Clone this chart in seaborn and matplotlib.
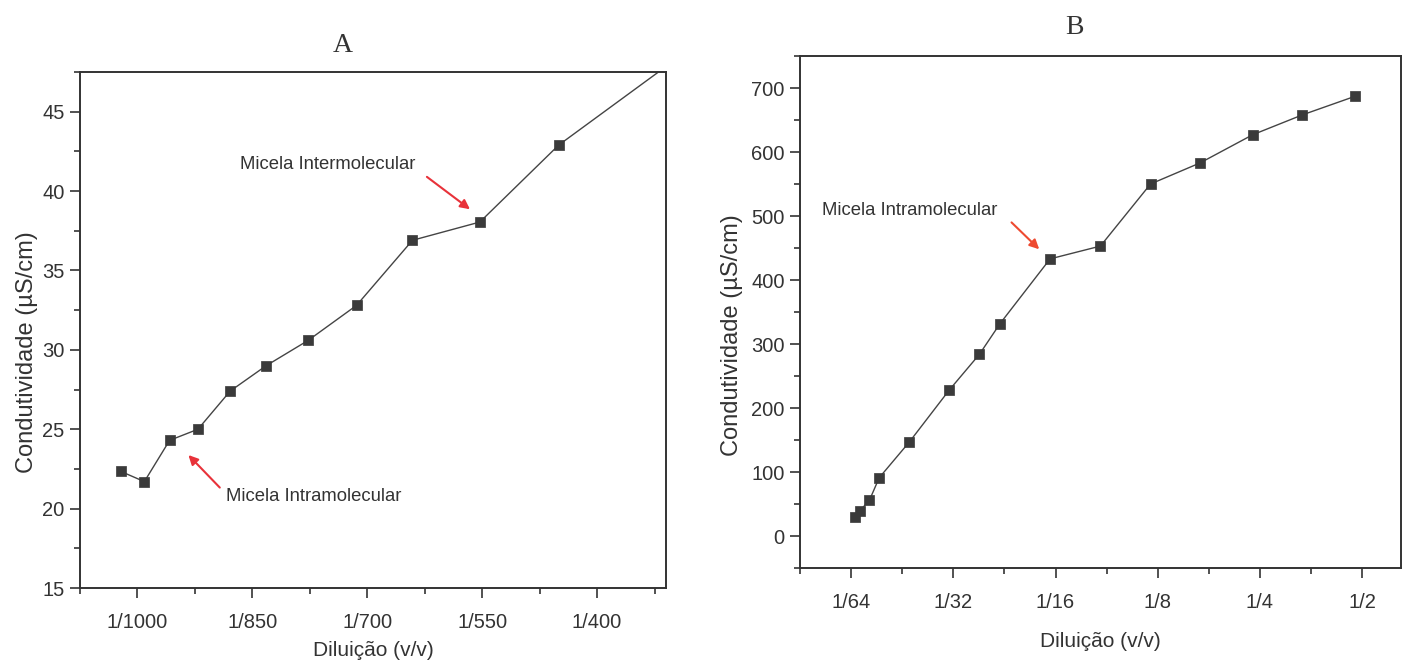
import matplotlib
matplotlib.use("Agg")
import matplotlib.pyplot as plt
from matplotlib import font_manager
from matplotlib.ticker import NullFormatter
import seaborn as sns
import pandas as pd

# painel A: diluicao 1/x (x = denominador) e condutividade (uS/cm)
dil_a = [1022, 991, 958, 921, 879, 832, 777, 714, 641, 553, 450]
cond_a = [22.35, 21.7, 24.3, 25.0, 27.4, 29.0, 30.6, 32.8, 36.9, 38.05, 42.9]
# a linha segue ate fora do grafico (canto superior direito)
dil_a_fim = 300
cond_a_fim = 48.2
ticks_a = [1000, 850, 700, 550, 400]

# painel B
dil_b = [62.5, 60.4, 56.5, 52.9, 43.1, 32.9, 26.8, 23.3, 16.6, 11.8, 8.4, 6.0, 4.2, 3.0, 2.1]
cond_b = [30, 39, 56, 91, 147, 228, 284, 332, 433, 453, 550, 583, 627, 658, 687]
ticks_b = [64, 32, 16, 8, 4, 2]

sns.set_style("ticks")
plt.rcParams["font.family"] = ["Liberation Sans", "DejaVu Sans"]
nomes = {f.name for f in font_manager.fontManager.ttflist}
fonte_nota = "Liberation Sans Narrow" if "Liberation Sans Narrow" in nomes else "Liberation Sans"
tam_nota = 15 if fonte_nota == "Liberation Sans Narrow" else 13.3

cinza = "#333333"
vermelho = "#e8323a"

fig = plt.figure(figsize=(14.04, 6.63), dpi=100)
W, H = 1404, 663
axA = fig.add_axes([80 / W, 1 - 588 / H, (666 - 80) / W, (588 - 72) / H])
axB = fig.add_axes([800 / W, 1 - 568 / H, (1401 - 800) / W, (568 - 56) / H])

df_a = pd.DataFrame({"dil": dil_a, "cond": cond_a})
df_a_linha = pd.DataFrame({"dil": dil_a + [dil_a_fim], "cond": cond_a + [cond_a_fim]})
sns.lineplot(data=df_a_linha, x="dil", y="cond", ax=axA, color="#444444", lw=1.0, sort=False)
sns.scatterplot(data=df_a, x="dil", y="cond", ax=axA, marker="s", s=52,
                color="#3a3a3a", edgecolor="#3a3a3a", linewidth=0.5, zorder=3)

df_b = pd.DataFrame({"dil": [1 / d for d in dil_b], "cond": cond_b})
sns.lineplot(data=df_b, x="dil", y="cond", ax=axB, color="#444444", lw=1.0, sort=False)
sns.scatterplot(data=df_b, x="dil", y="cond", ax=axB, marker="s", s=52,
                color="#3a3a3a", edgecolor="#3a3a3a", linewidth=0.5, zorder=3)

# eixos A
axA.set_xlim(1075, 310)
axA.set_ylim(15, 47.5)
axA.set_xticks(ticks_a)
axA.set_xticklabels(["1/%d" % t for t in ticks_a])
axA.set_xticks([1075, 925, 775, 625, 475, 325], minor=True)
axA.set_yticks([15, 20, 25, 30, 35, 40, 45])
axA.set_yticks([17.5, 22.5, 27.5, 32.5, 37.5, 42.5, 47.5], minor=True)

# eixos B
axB.set_xscale("log", base=2)
axB.set_xlim(2 ** -6.5, 2 ** -0.62)
axB.set_ylim(-50, 750)
axB.set_xticks([1 / t for t in ticks_b])
axB.set_xticklabels(["1/%d" % t for t in ticks_b])
axB.set_xticks([2 ** (-k - 0.5) for k in range(1, 7)], minor=True)
axB.xaxis.set_minor_formatter(NullFormatter())
axB.set_yticks(range(0, 701, 100))
axB.set_yticks(range(-50, 751, 100), minor=True)

for ax in (axA, axB):
    for sp in ax.spines.values():
        sp.set_visible(True)
        sp.set_linewidth(1.4)
        sp.set_color(cinza)
    ax.tick_params(which="major", direction="out", length=7, width=1.2, color=cinza,
                   labelsize=14.5, labelcolor=cinza, top=False, right=False)
    ax.tick_params(which="minor", direction="out", length=4, width=1.2, color=cinza,
                   top=False, right=False)
    ax.tick_params(axis="x", which="major", pad=11)
    ax.tick_params(axis="y", which="major", pad=4)
    ax.set_xlabel("Diluição (v/v)", fontsize=15, color=cinza)
    ax.set_ylabel("Condutividade (µS/cm)", fontsize=17, color=cinza)

axA.xaxis.set_label_coords(0.5, -0.103)
axB.xaxis.set_label_coords(0.5, -0.125)
axA.yaxis.set_label_coords(-0.072, 0.457)
axB.yaxis.set_label_coords(-0.095, 0.455)

# notas painel A
axA.text(866, 41.7, "Micela Intermolecular", family=[fonte_nota, "DejaVu Sans"],
         fontsize=tam_nota, color=cinza, ha="left", va="center")
axA.annotate("", xy=(563, 38.75), xytext=(625, 41.0),
             arrowprops=dict(arrowstyle="-|>", color=vermelho, lw=1.5, mutation_scale=14))
axA.text(884, 20.75, "Micela Intramolecular", family=[fonte_nota, "DejaVu Sans"],
         fontsize=tam_nota, color=cinza, ha="left", va="center")
axA.annotate("", xy=(936, 23.5), xytext=(890, 21.2),
             arrowprops=dict(arrowstyle="-|>", color=vermelho, lw=1.5, mutation_scale=14))

# nota painel B
axB.text(2 ** -6.285, 508, "Micela Intramolecular", family=[fonte_nota, "DejaVu Sans"],
         fontsize=tam_nota, color=cinza, ha="left", va="center")
axB.annotate("", xy=(2 ** -4.14, 445), xytext=(2 ** -4.45, 493),
             arrowprops=dict(arrowstyle="-|>", color="#ee4a30", lw=1.5, mutation_scale=14))

fig.text(343 / W, 1 - 46 / H, "A", family=["Liberation Serif", "DejaVu Serif"],
         fontsize=20, color=cinza, ha="center", va="center")
fig.text(1074 / W, 1 - 28 / H, "B", family=["Liberation Serif", "DejaVu Serif"],
         fontsize=20, color=cinza, ha="center", va="center")

fig.savefig("out.png", dpi=100)
